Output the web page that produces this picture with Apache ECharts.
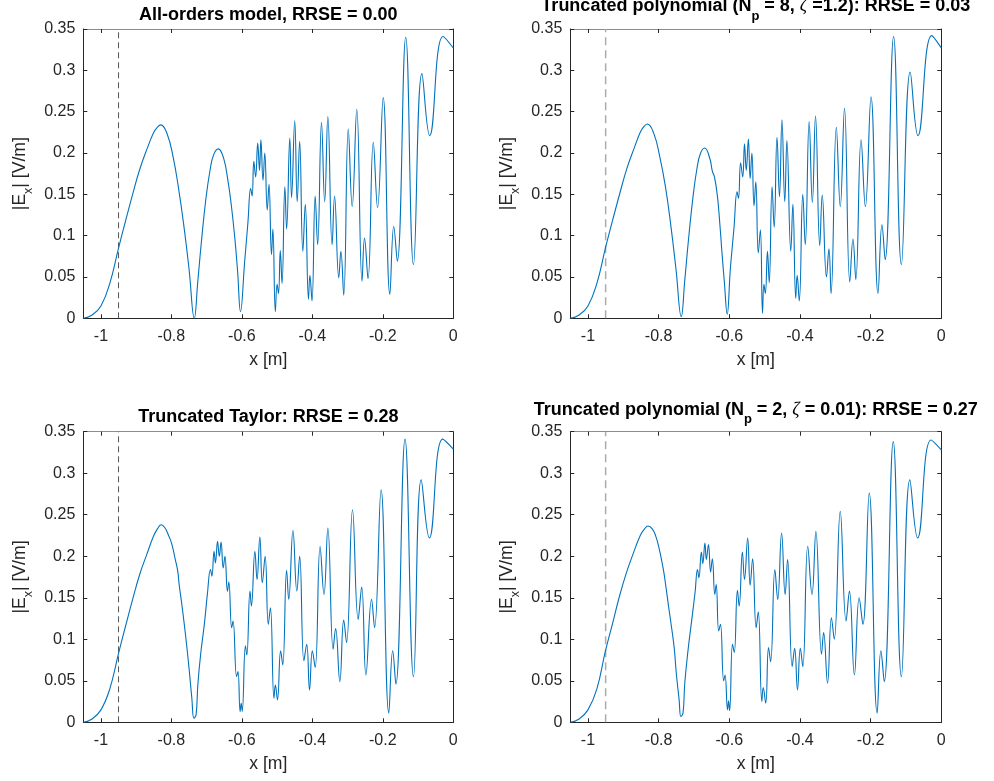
<!DOCTYPE html>
<html><head><meta charset="utf-8">
<script src="https://cdn.jsdelivr.net/npm/echarts@6/dist/echarts.min.js"></script>
<style>html,body{margin:0;padding:0;background:#fff}#c{width:994px;height:781px}</style>
</head><body><div id="c"></div>
<script>
// ---- data: [x (m), |Ex| (V/m)] ----
const allOrders = [[-1.050,0],[-1.025,0.004],[-1.000,0.015],[-0.975,0.042],[-0.950,0.085],[-0.930,0.118],[-0.910,0.150],[-0.890,0.180],[-0.870,0.204],[-0.850,0.225],[-0.840,0.231],[-0.830,0.234],[-0.812,0.223],[-0.795,0.195],[-0.780,0.158],[-0.765,0.113],[-0.750,0.060],[-0.735,0.000],[-0.725,0.045],[-0.715,0.092],[-0.702,0.145],[-0.690,0.180],[-0.680,0.198],[-0.667,0.205],[-0.652,0.194],[-0.639,0.165],[-0.630,0.137],[-0.620,0.097],[-0.612,0.056],[-0.604,0.008],
[-0.592,0.069],[-0.583,0.115],[-0.575,0.157],[-0.571,0.148],[-0.566,0.190],[-0.561,0.171],[-0.555,0.212],[-0.550,0.179],[-0.546,0.216],[-0.540,0.167],[-0.535,0.200],[-0.528,0.131],[-0.523,0.162],[-0.516,0.077],[-0.512,0.108],[-0.505,0.008],[-0.500,0.041],[-0.496,0.030],[-0.491,0.082],[-0.486,0.042],[-0.478,0.159],[-0.473,0.108],[-0.464,0.218],[-0.459,0.146],[-0.450,0.239],[-0.443,0.141],[-0.436,0.214],[-0.427,0.081],[-0.420,0.138],[-0.411,0.023],[-0.407,0.052],[-0.401,0.021],[-0.392,0.148],[-0.385,0.089],[-0.374,0.237],[-0.365,0.141],[-0.356,0.244],[-0.344,0.089],[-0.337,0.148],[-0.325,0.049],[-0.319,0.081],[-0.311,0.028],[-0.298,0.229],[-0.287,0.135],[-0.274,0.253],[-0.259,0.045],[-0.252,0.097],[-0.242,0.048],[-0.227,0.213],[-0.215,0.134],[-0.199,0.267],[-0.180,0.029],[-0.169,0.111],[-0.159,0.069],[-0.135,0.340],[-0.113,0.065],[-0.089,0.296],[-0.067,0.221],[-0.029,0.341],[0,0.327]];

const polyN8 = [[-1.050,0],[-1.025,0.004],[-1.000,0.015],[-0.975,0.042],[-0.950,0.086],[-0.930,0.119],[-0.910,0.151],[-0.890,0.181],[-0.870,0.205],[-0.852,0.225],[-0.842,0.232],[-0.832,0.235],[-0.814,0.224],[-0.797,0.196],[-0.781,0.160],[-0.766,0.114],[-0.751,0.060],[-0.736,0.002],[-0.726,0.046],[-0.716,0.093],[-0.703,0.146],[-0.692,0.180],[-0.682,0.199],[-0.6695,0.206],[-0.655,0.193],[-0.648,0.178],[-0.642,0.171],[-0.634,0.149],[-0.628,0.121],[-0.621,0.081],[-0.614,0.044],[-0.606,0.005],
[-0.597,0.060],[-0.587,0.108],[-0.578,0.153],[-0.574,0.145],[-0.568,0.188],[-0.562,0.171],[-0.557,0.211],[-0.552,0.179],[-0.546,0.217],[-0.541,0.169],[-0.536,0.200],[-0.530,0.136],[-0.525,0.165],[-0.518,0.079],[-0.512,0.107],[-0.506,0.006],[-0.502,0.041],[-0.498,0.030],[-0.492,0.081],[-0.487,0.043],[-0.479,0.159],[-0.473,0.110],[-0.465,0.219],[-0.458,0.147],[-0.451,0.240],[-0.443,0.141],[-0.437,0.215],[-0.426,0.081],[-0.420,0.138],[-0.412,0.024],[-0.408,0.052],[-0.402,0.021],[-0.392,0.150],[-0.385,0.089],[-0.374,0.238],[-0.365,0.140],[-0.356,0.245],[-0.344,0.088],[-0.337,0.149],[-0.325,0.050],[-0.318,0.084],[-0.312,0.030],[-0.297,0.231],[-0.286,0.135],[-0.274,0.254],[-0.259,0.044],[-0.250,0.096],[-0.242,0.047],[-0.227,0.216],[-0.215,0.135],[-0.199,0.268],[-0.179,0.030],[-0.168,0.113],[-0.159,0.071],[-0.135,0.341],[-0.113,0.065],[-0.088,0.298],[-0.066,0.221],[-0.027,0.342],[0,0.327]];

const taylor = [[-1.050,0],[-1.025,0.004],[-1.000,0.015],[-0.975,0.040],[-0.950,0.083],[-0.930,0.116],[-0.910,0.148],[-0.890,0.178],[-0.870,0.202],[-0.850,0.225],[-0.838,0.234],[-0.829,0.238],[-0.818,0.234],[-0.808,0.225],[-0.799,0.215],[-0.790,0.198],[-0.782,0.182],[-0.778,0.166],[-0.771,0.144],[-0.764,0.120],[-0.757,0.094],[-0.749,0.061],[-0.742,0.029],[-0.736,0.005],[-0.730,0.009],[-0.725,0.045],[-0.717,0.082],[-0.706,0.120],[-0.698,0.154],[-0.689,0.184],[-0.685,0.176],[-0.679,0.206],[-0.675,0.192],[-0.669,0.218],[-0.664,0.200],[-0.659,0.217],[-0.653,0.186],[-0.648,0.200],[-0.641,0.158],[-0.637,0.169],[-0.629,0.114],[-0.625,0.122],[-0.615,0.055],[-0.611,0.061],[-0.605,0.013],[-0.602,0.023],[-0.599,0.013],
[-0.590,0.092],[-0.586,0.081],[-0.577,0.158],[-0.573,0.140],[-0.563,0.206],[-0.557,0.172],[-0.549,0.223],[-0.542,0.168],[-0.534,0.200],[-0.525,0.118],[-0.519,0.138],[-0.509,0.029],[-0.505,0.045],[-0.499,0.027],[-0.490,0.086],[-0.484,0.069],[-0.473,0.183],[-0.467,0.148],[-0.455,0.231],[-0.444,0.158],[-0.436,0.200],[-0.424,0.074],[-0.416,0.094],[-0.408,0.039],[-0.400,0.086],[-0.392,0.066],[-0.378,0.212],[-0.367,0.154],[-0.356,0.234],[-0.341,0.088],[-0.334,0.113],[-0.322,0.049],[-0.311,0.123],[-0.303,0.096],[-0.286,0.256],[-0.270,0.124],[-0.260,0.163],[-0.248,0.057],[-0.232,0.148],[-0.2235,0.114],[-0.205,0.280],[-0.183,0.011],[-0.172,0.086],[-0.163,0.046],[-0.137,0.341],[-0.113,0.055],[-0.091,0.292],[-0.068,0.222],[-0.030,0.341],[0,0.329]];

const polyN2 = [[-1.050,0],[-1.025,0.004],[-1.000,0.015],[-0.975,0.040],[-0.951,0.085],[-0.931,0.118],[-0.912,0.150],[-0.892,0.179],[-0.873,0.202],[-0.852,0.225],[-0.840,0.233],[-0.830,0.2365],[-0.818,0.233],[-0.808,0.224],[-0.800,0.212],[-0.792,0.196],[-0.785,0.180],[-0.779,0.162],[-0.772,0.140],[-0.764,0.116],[-0.756,0.090],[-0.750,0.059],[-0.742,0.027],[-0.737,0.007],[-0.731,0.011],[-0.726,0.047],[-0.717,0.086],[-0.707,0.121],[-0.697,0.156],[-0.690,0.184],[-0.686,0.174],[-0.679,0.205],[-0.675,0.191],[-0.669,0.216],[-0.665,0.196],[-0.659,0.214],[-0.653,0.181],[-0.648,0.197],[-0.641,0.154],[-0.637,0.166],[-0.630,0.110],[-0.625,0.118],[-0.616,0.050],[-0.612,0.057],[-0.605,0.015],[-0.602,0.026],[-0.599,0.014],
[-0.591,0.094],[-0.586,0.084],[-0.577,0.159],[-0.572,0.140],[-0.563,0.205],[-0.557,0.172],[-0.548,0.222],[-0.541,0.165],[-0.534,0.197],[-0.524,0.114],[-0.518,0.133],[-0.508,0.025],[-0.504,0.042],[-0.497,0.023],[-0.489,0.090],[-0.483,0.073],[-0.471,0.184],[-0.463,0.148],[-0.452,0.228],[-0.442,0.154],[-0.435,0.196],[-0.422,0.067],[-0.415,0.089],[-0.407,0.039],[-0.399,0.089],[-0.392,0.067],[-0.378,0.212],[-0.366,0.154],[-0.355,0.230],[-0.339,0.082],[-0.333,0.108],[-0.322,0.047],[-0.311,0.126],[-0.303,0.100],[-0.286,0.254],[-0.2695,0.122],[-0.260,0.158],[-0.246,0.057],[-0.2325,0.150],[-0.222,0.118],[-0.204,0.276],[-0.1815,0.011],[-0.171,0.086],[-0.1616,0.049],[-0.136,0.338],[-0.113,0.055],[-0.089,0.292],[-0.067,0.222],[-0.029,0.340],[0,0.328]];

const panelData = [allOrders, polyN8, taylor, polyN2];
const cutoffX = -0.95;          // dashed vertical marker
const xRange = [-1.05, 0];
const yRange = [0, 0.35];
const yStep = 0.05;
const titles = [
  '{m|All-orders model, RRSE = 0.00}',
  '{m|Truncated polynomial (N}{s|p}{m| = 8, }{z|ζ}{m| =1.2): RRSE = 0.03}',
  '{m|Truncated Taylor: RRSE = 0.28}',
  '{m|Truncated polynomial (N}{s|p}{m| = 2, }{z|ζ}{m| = 0.01): RRSE = 0.27}'
];
const xName = 'x [m]';
const yName = '{m||E}{s|x}{m|| [V/m]}';

// ---- layout / style ----
const FONT = '"Liberation Sans", Arial, Helvetica, sans-serif';
const AX = '#262626';
const grids = [
  {left: 83.3, top: 29, width: 370, height: 289.3},
  {left: 570.3, top: 29, width: 371, height: 289.3},
  {left: 83.3, top: 431.7, width: 370, height: 290.6},
  {left: 570.3, top: 431.7, width: 371, height: 290.6}
];
const dashStyles = [
  {color: '#555555', width: 1, type: [6, 4]},
  {color: '#ababab', width: 1.5, type: [8, 5]},
  {color: '#555555', width: 1, type: [6, 4]},
  {color: '#ababab', width: 1.5, type: [8, 5]}
];
const titleTops = [6, -2.5, 408.5, 401];

const xAxes = [], yAxes = [], series = [], graphics = [];
const richTitle = {
  m: {fontSize: 18, fontWeight: 'bold', fontFamily: FONT, fill: '#000', lineHeight: 18, verticalAlign: 'top'},
  s: {fontSize: 13, fontWeight: 'bold', fontFamily: FONT, fill: '#000', lineHeight: 25, verticalAlign: 'bottom'},
  z: {fontSize: 18, fontStyle: 'italic', fontFamily: '"Liberation Serif", serif', fill: '#000', lineHeight: 18, verticalAlign: 'top'}
};
const richY = {
  m: {fontSize: 17.6, fontFamily: FONT, fill: AX, lineHeight: 17.6, verticalAlign: 'top'},
  s: {fontSize: 12.5, fontFamily: FONT, fill: AX, lineHeight: 23.9, verticalAlign: 'bottom'}
};

grids.forEach((g, i) => {
  const baseX = {type: 'value', gridIndex: i, min: xRange[0], max: xRange[1], splitLine: {show: false},
    axisTick: {show: true, inside: true, length: 4, lineStyle: {color: AX, width: 1}}};
  xAxes.push(Object.assign({}, baseX, {position: 'bottom',
    axisLine: {show: true, onZero: false, lineStyle: {color: AX, width: 1}},
    axisLabel: {show: true, showMinLabel: false, margin: 10, color: AX, fontSize: 16, fontFamily: FONT}}));
  xAxes.push(Object.assign({}, baseX, {position: 'top',
    axisLine: {show: true, onZero: false, lineStyle: {color: '#8c8c8c', width: 1}},
    axisLabel: {show: false}}));
  const baseY = {type: 'value', gridIndex: i, min: yRange[0], max: yRange[1], interval: yStep, splitLine: {show: false},
    axisLine: {show: true, onZero: false, lineStyle: {color: AX, width: 1}},
    axisTick: {show: true, inside: true, length: 4, lineStyle: {color: AX, width: 1}}};
  yAxes.push(Object.assign({}, baseY, {position: 'left',
    axisLabel: {show: true, margin: 8, color: AX, fontSize: 16, fontFamily: FONT}}));
  yAxes.push(Object.assign({}, baseY, {position: 'right', axisLabel: {show: false}}));

  series.push({type: 'line', xAxisIndex: 2 * i, yAxisIndex: 2 * i, silent: true, symbol: 'none', z: 2,
    data: [[cutoffX, yRange[0]], [cutoffX, yRange[1]]], lineStyle: dashStyles[i]});
  series.push({type: 'line', xAxisIndex: 2 * i, yAxisIndex: 2 * i, silent: true, symbol: 'none', z: 3,
    smooth: 0.45, data: panelData[i], lineStyle: {color: '#0072BD', width: 1.1}});

  const cx = g.left + g.width / 2;
  const cy = g.top + g.height / 2;
  graphics.push({type: 'text', x: cx, y: titleTops[i], silent: true,
    style: {text: titles[i], rich: richTitle, align: 'center', verticalAlign: 'top'}});
  graphics.push({type: 'text', x: cx, y: g.top + g.height + 41.6, silent: true,
    style: {text: xName, font: '17.6px ' + FONT, fill: AX, align: 'center', verticalAlign: 'middle'}});
  graphics.push({type: 'text', x: g.left - 72.2, y: cy, rotation: Math.PI / 2, silent: true,
    style: {text: yName, rich: richY, align: 'center', verticalAlign: 'top'}});
});

const chart = echarts.init(document.getElementById('c'), null, {renderer: 'canvas'});
chart.setOption({
  animation: false,
  backgroundColor: '#fff',
  grid: grids.map(g => Object.assign({containLabel: false}, g)),
  xAxis: xAxes,
  yAxis: yAxes,
  series: series,
  graphic: graphics
});
</script></body></html>
